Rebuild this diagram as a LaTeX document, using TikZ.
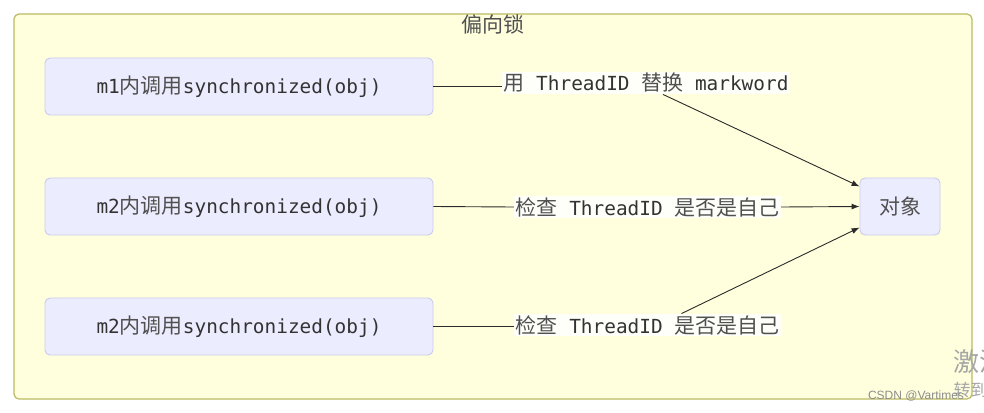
\documentclass[tikz,border=0pt]{standalone}
\usepackage{fontspec}
\setmonofont{DejaVu Sans Mono}
\newfontfamily\cjk{Noto Sans CJK SC}
\newfontfamily\wmfont{Liberation Sans}
\usetikzlibrary{arrows.meta}
\definecolor{clusterfill}{HTML}{FFFFDE}
\definecolor{clusterline}{HTML}{BABA62}
\definecolor{nodefill}{HTML}{ECECFF}
\definecolor{nodeline}{HTML}{CACAEC}
\definecolor{txt}{HTML}{333333}
\definecolor{cjkgray}{HTML}{505050}
\definecolor{edgecol}{HTML}{2A2A2A}
\newcommand{\zh}[1]{{\fontsize{21}{24}\cjk\selectfont\color{cjkgray}#1}}
\tikzset{
  cluster/.style={draw=clusterline, fill=clusterfill, line width=1.2pt, rounded corners=5pt},
  procbox/.style={draw=nodeline, fill=nodefill, line width=0.9pt, rounded corners=5pt,
    minimum height=57pt, inner sep=0pt, text=txt,
    font=\fontsize{19.4}{23}\ttfamily\selectfont},
  edgelabel/.style={fill=white, fill opacity=0.85, text opacity=1, inner sep=1.5pt,
    text=txt, font=\fontsize{19.4}{23}\ttfamily\selectfont},
  link/.style={draw=edgecol, line width=0.9pt},
  arrowlink/.style={link, -{Latex[length=8pt,width=6pt]}},
}
\begin{document}
\begin{tikzpicture}[x=1pt,y=-1pt]
\useasboundingbox (0,0) rectangle (984,412);
\fill[white] (0,0) rectangle (984,412);
\draw[cluster] (14,14) rectangle (972,399);
\node[text=cjkgray] (title) at (493,24) {\zh{偏向锁}};

\node[procbox, minimum width=388pt] (n1) at (239,86.5) {m1\zh{内调用}synchronized(obj)};
\node[procbox, minimum width=388pt] (n2) at (239,206.5) {m2\zh{内调用}synchronized(obj)};
\node[procbox, minimum width=388pt] (n3) at (239,326.5) {m2\zh{内调用}synchronized(obj)};
\node[procbox, minimum width=80pt] (obj) at (900,206.5) {\zh{对象}};

\node[edgelabel] (l1) at (646,83) {\zh{用} ThreadID \zh{替换} markword};
\node[edgelabel] (l2) at (647.5,207) {\zh{检查} ThreadID \zh{是否是自己}};
\node[edgelabel] (l3) at (647.5,325) {\zh{检查} ThreadID \zh{是否是自己}};

\draw[link] (n1.east) -- (n1.east -| l1.west);
\draw[arrowlink] ([xshift=17pt]l1.south) -- ([yshift=20pt]obj.west);
\draw[link] (n2.east) -- (l2.west);
\draw[arrowlink] (l2.east) -- (obj.west);
\draw[link] (n3.east) -- (n3.east -| l3.west);
\draw[arrowlink] ([xshift=34pt]l3.north) -- ([yshift=-21pt]obj.west);

\node[text=black!35, font=\fontsize{26}{28}\cjk\selectfont, anchor=west] (wm1) at (950,362) {激活};
\node[text=black!35, font=\fontsize{17}{19}\cjk\selectfont, anchor=west] (wm2) at (950,390) {转到};
\node[text=black!45, font=\fontsize{12}{14}\wmfont\selectfont] (wm3) at (916,396) {CSDN @Vartimes};
\end{tikzpicture}
\end{document}
